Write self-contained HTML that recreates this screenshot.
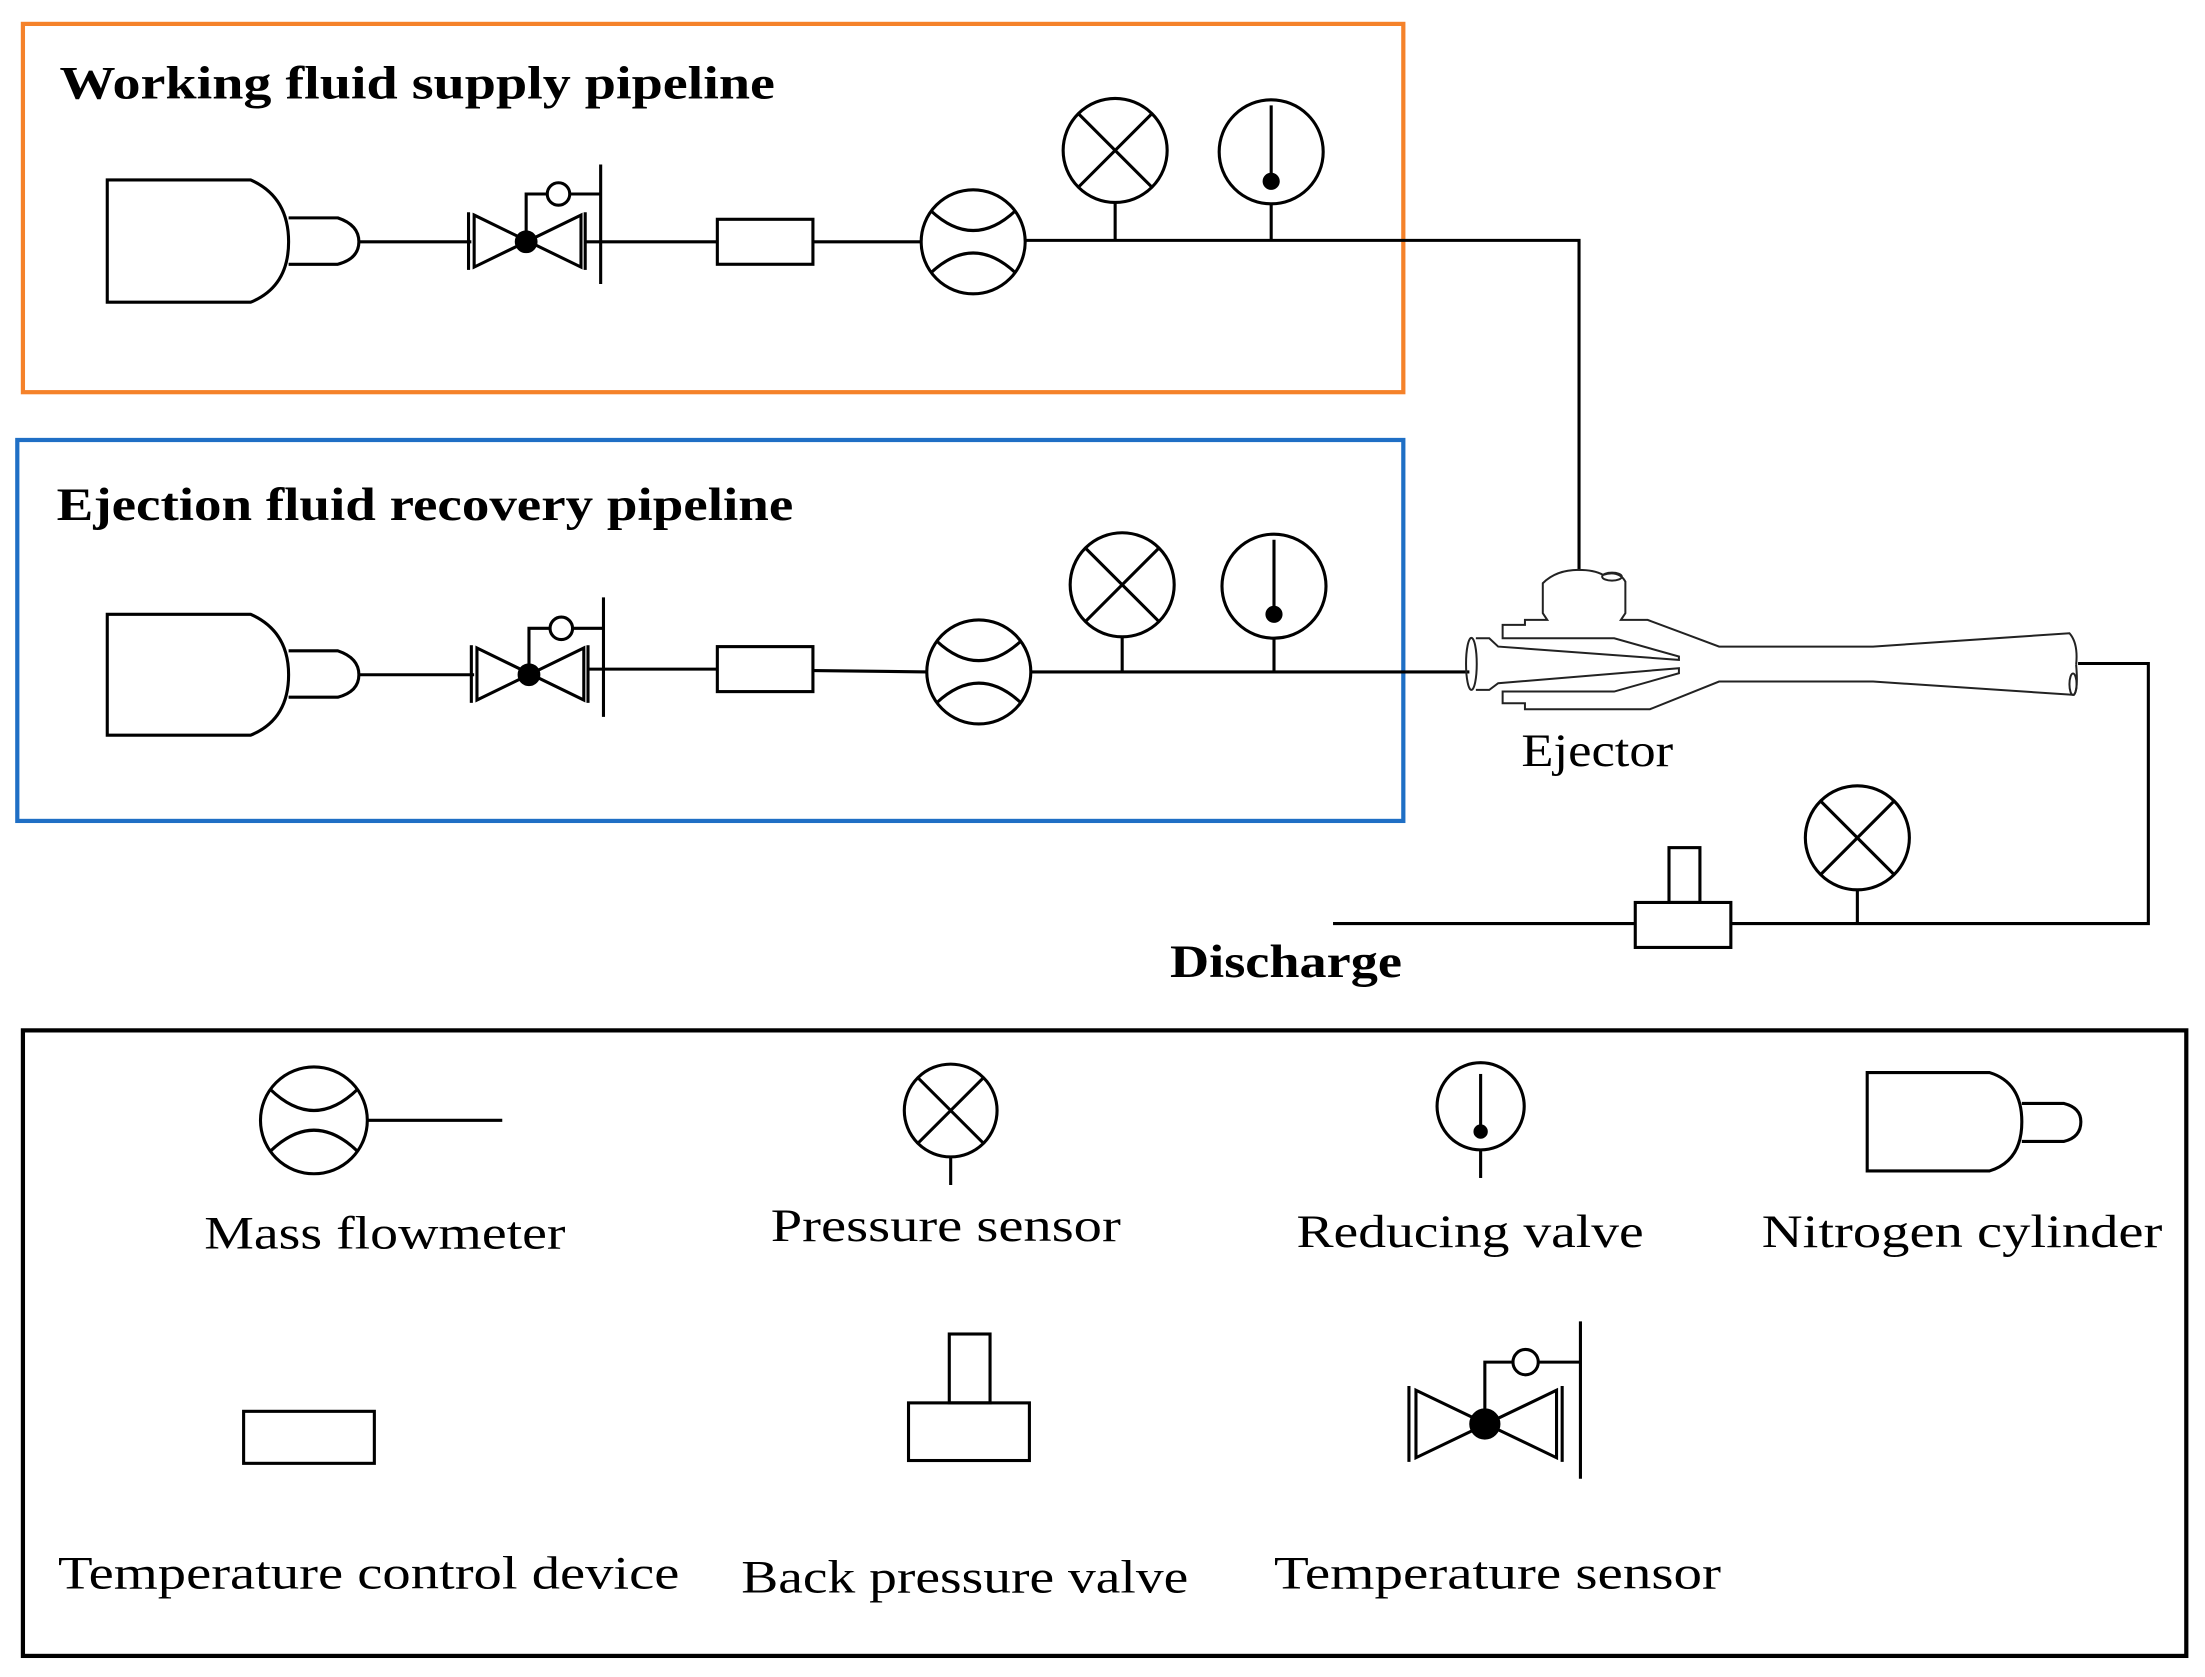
<!DOCTYPE html>
<html><head><meta charset="utf-8"><style>
html,body{margin:0;padding:0;background:#fff;}
svg{display:block;}
text{font-family:"Liberation Serif",serif;fill:#000;}
.b{font-weight:bold;}
</style></head><body>
<svg width="2205" height="1677" viewBox="0 0 1568 1193" xmlns="http://www.w3.org/2000/svg">
<g fill="none" stroke="#000" stroke-width="2.2">
<rect x="16" y="17" width="982" height="262" stroke="#f5822a" stroke-width="3"/>
<rect x="12" y="313" width="986" height="271" stroke="#1f6fc5" stroke-width="3"/>
<rect x="16" y="733" width="1539" height="445" stroke-width="3"/>

<!-- Row 1 -->
<path d="M76,128 H178 Q205,140 205,172 Q205,204 178,215 H76 Z"/>
<path d="M205,155 H240 Q255,160 255,172 Q255,184 240,188 H205"/>
<line x1="255" y1="172" x2="335" y2="172"/>
<path d="M337,153 L413,190 L413,153 L337,190 Z"/>
<line x1="333" y1="151" x2="333" y2="192"/><line x1="416" y1="151" x2="416" y2="192"/>
<circle cx="374" cy="172" r="7" fill="#000"/>
<path d="M374,172 V138 H389"/><circle cx="397" cy="138" r="8"/><line x1="405" y1="138" x2="427" y2="138"/>
<line x1="427" y1="117" x2="427" y2="202"/>
<line x1="416" y1="172" x2="510" y2="172"/>
<rect x="510" y="156" width="68" height="32"/>
<line x1="578" y1="172" x2="655" y2="172"/>
<circle cx="692" cy="172" r="37"/>
<path d="M662,150 Q692,178 722,150"/><path d="M662,194 Q692,166 722,194"/>
<circle cx="793" cy="107" r="37"/><path d="M767,81 L819,133 M819,81 L767,133"/>
<line x1="793" y1="144" x2="793" y2="171"/>
<circle cx="904" cy="108" r="37"/><line x1="904" y1="75" x2="904" y2="128"/><circle cx="904" cy="129" r="5" fill="#000"/>
<line x1="904" y1="145" x2="904" y2="171"/>
<path d="M729,171 H1123 V406"/>

<!-- Row 2 -->
<path d="M76,437 H178 Q205,449 205,480 Q205,512 178,523 H76 Z"/>
<path d="M205,463 H240 Q255,468 255,480 Q255,492 240,496 H205"/>
<line x1="255" y1="480" x2="337" y2="480"/>
<path d="M339,461 L415,498 L415,461 L339,498 Z"/>
<line x1="335" y1="459" x2="335" y2="500"/><line x1="418" y1="459" x2="418" y2="500"/>
<circle cx="376" cy="480" r="7" fill="#000"/>
<path d="M376,480 V447 H391"/><circle cx="399" cy="447" r="8"/><line x1="407" y1="447" x2="429" y2="447"/>
<line x1="429" y1="425" x2="429" y2="510"/>
<line x1="418" y1="476" x2="510" y2="476"/>
<rect x="510" y="460" width="68" height="32"/>
<line x1="578" y1="477" x2="659" y2="478"/>
<circle cx="696" cy="478" r="37"/>
<path d="M666,456 Q696,484 726,456"/><path d="M666,500 Q696,472 726,500"/>
<circle cx="798" cy="416" r="37"/><path d="M772,390 L824,442 M824,390 L772,442"/>
<line x1="798" y1="453" x2="798" y2="478"/>
<circle cx="906" cy="417" r="37"/><line x1="906" y1="384" x2="906" y2="436"/><circle cx="906" cy="437" r="5" fill="#000"/>
<line x1="906" y1="454" x2="906" y2="478"/>
<line x1="733" y1="478" x2="1045" y2="478"/>

<!-- Ejector -->
<g transform="translate(1024.2,391.2) scale(0.3175,0.2371)" stroke="#222">
<path vector-effect="non-scaling-stroke" stroke-width="2" d="M80,265 L110,265 L130,290 L535,330 L535,320 L390,265 L140,265 L140,225 L190,225 L190,210 L240,210 L230,190 L230,100 Q260,60 310,60 Q345,60 365,75 Q400,60 415,95 L415,190 L405,210 L465,210 L625,290 L970,290 L1410,250 Q1430,280 1425,345 M1425,345 Q1430,420 1420,435 L970,395 L625,395 L470,478 L190,478 L190,460 L140,460 L140,425 L390,425 L535,370 L535,355 L130,400 L110,420 L80,420"/>
<ellipse vector-effect="non-scaling-stroke" stroke-width="2" cx="70" cy="342" rx="12" ry="78"/>
<ellipse vector-effect="non-scaling-stroke" stroke-width="2" cx="1418" cy="403" rx="8" ry="32"/>
<ellipse vector-effect="non-scaling-stroke" stroke-width="2" cx="385" cy="80" rx="22" ry="12"/>
</g>
<path d="M1478,472 H1528 V657 H948"/>
<rect x="1163" y="642" width="68" height="32" fill="#fff"/>
<rect x="1187" y="603" width="22" height="39"/>
<circle cx="1321" cy="596" r="37"/><path d="M1295,570 L1347,622 M1347,570 L1295,622"/>
<line x1="1321" y1="633" x2="1321" y2="657"/>

<!-- Legend -->
<circle cx="223" cy="797" r="38"/>
<path d="M192,775 Q223,805 254,775"/><path d="M192,819 Q223,789 254,819"/>
<line x1="261" y1="797" x2="357" y2="797"/>
<circle cx="676" cy="790" r="33"/><path d="M653,767 L699,813 M699,767 L653,813"/>
<line x1="676" y1="823" x2="676" y2="843"/>
<circle cx="1053" cy="787" r="31"/><line x1="1053" y1="764" x2="1053" y2="803"/><circle cx="1053" cy="805" r="4" fill="#000"/>
<line x1="1053" y1="818" x2="1053" y2="838"/>
<path d="M1328,763 H1415 Q1438,770 1438,798 Q1438,826 1415,833 H1328 Z"/>
<path d="M1438,785 H1468 Q1480,788 1480,798 Q1480,809 1468,812 H1438"/>
<rect x="173" y="1004" width="93" height="37"/>
<rect x="646" y="998" width="86" height="41"/>
<rect x="675" y="949" width="29" height="49"/>
<path d="M1007,989 L1107,1037 L1107,989 L1007,1037 Z"/>
<line x1="1002" y1="986" x2="1002" y2="1040"/><line x1="1111" y1="986" x2="1111" y2="1040"/>
<circle cx="1056" cy="1013" r="10" fill="#000"/>
<path d="M1056,1013 V969 H1076"/><circle cx="1085" cy="969" r="9"/><line x1="1094" y1="969" x2="1124" y2="969"/>
<line x1="1124" y1="940" x2="1124" y2="1052"/>
</g>

<text x="42" y="70" class="b" font-size="33" textLength="509" lengthAdjust="spacingAndGlyphs">Working fluid supply pipeline</text>
<text x="40" y="370" class="b" font-size="33" textLength="524" lengthAdjust="spacingAndGlyphs">Ejection fluid recovery pipeline</text>
<text x="1082" y="545" font-size="33" textLength="108" lengthAdjust="spacingAndGlyphs">Ejector</text>
<text x="832" y="695" class="b" font-size="33" textLength="165" lengthAdjust="spacingAndGlyphs">Discharge</text>
<text x="145" y="888" font-size="33" textLength="257" lengthAdjust="spacingAndGlyphs">Mass flowmeter</text>
<text x="548" y="883" font-size="33" textLength="249" lengthAdjust="spacingAndGlyphs">Pressure sensor</text>
<text x="922" y="887" font-size="33" textLength="247" lengthAdjust="spacingAndGlyphs">Reducing valve</text>
<text x="1253" y="887" font-size="33" textLength="285" lengthAdjust="spacingAndGlyphs">Nitrogen cylinder</text>
<text x="41" y="1130" font-size="33" textLength="442" lengthAdjust="spacingAndGlyphs">Temperature control device</text>
<text x="527" y="1133" font-size="33" textLength="318" lengthAdjust="spacingAndGlyphs">Back pressure valve</text>
<text x="906" y="1130" font-size="33" textLength="318" lengthAdjust="spacingAndGlyphs">Temperature sensor</text>
</svg>
</body></html>
